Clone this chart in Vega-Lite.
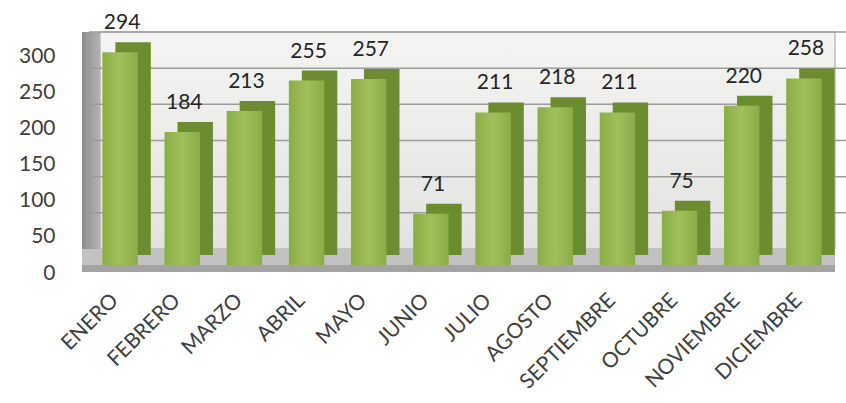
{
  "$schema": "https://vega.github.io/schema/vega-lite/v6.json",
  "autosize": {"type": "none"},
  "width": 746,
  "height": 217,
  "padding": {"left": 89, "top": 48, "right": 11, "bottom": 138},
  "background": "white",
  "config": {"view": {"stroke": null}, "font": "Lato",
    "axisY": {"labelOverlap": false, "tickCount": 7, "grid": false, "domain": false, "ticks": false, "labelFontSize": 21, "labelColor": "#404040", "labelPadding": 34, "labelOffset": 8, "title": null}},
  "datasets": {
    "meses": [
      {"mes": "ENERO", "valor": 294},
      {"mes": "FEBRERO", "valor": 184},
      {"mes": "MARZO", "valor": 213},
      {"mes": "ABRIL", "valor": 255},
      {"mes": "MAYO", "valor": 257},
      {"mes": "JUNIO", "valor": 71},
      {"mes": "JULIO", "valor": 211},
      {"mes": "AGOSTO", "valor": 218},
      {"mes": "SEPTIEMBRE", "valor": 211},
      {"mes": "OCTUBRE", "valor": 75},
      {"mes": "NOVIEMBRE", "valor": 220},
      {"mes": "DICIEMBRE", "valor": 258}
    ],
    "grid": [{"g": 50}, {"g": 100}, {"g": 150}, {"g": 200}, {"g": 250}, {"g": 300}],
    "one": [{"k": 1}]
  },
  "layer": [
    {
      "data": {"name": "one"},
      "mark": {"type": "rect", "yOffset": -16, "y2Offset": -16, "stroke": "#a0a0a0", "strokeWidth": 1,
        "color": {"gradient": "linear", "x1": 0, "y1": 0, "x2": 0, "y2": 1, "stops": [{"offset": 0, "color": "#f4f4f2"}, {"offset": 1, "color": "#e2e2e0"}]}},
      "encoding": {"x": {"value": 11}, "x2": {"value": "width"},
        "y": {"datum": 300, "type": "quantitative", "scale": {"domain": [0, 300], "nice": false},
          "axis": {"title": null, "values": [0, 50, 100, 150, 200, 250, 300]}},
        "y2": {"datum": 0}}
    },
    {
      "data": {"name": "one"},
      "mark": {"type": "rect", "yOffset": -16, "y2Offset": 7, "color": {"gradient": "linear", "x1": 0, "y1": 0, "x2": 1, "y2": 0, "stops": [{"offset": 0, "color": "#8c8c8c"}, {"offset": 1, "color": "#b3b3b3"}]}},
      "encoding": {"x": {"value": -7}, "x2": {"value": 11},
        "y": {"datum": 300, "type": "quantitative"}, "y2": {"datum": 0}}
    },
    {
      "data": {"name": "grid"},
      "mark": {"type": "rule", "xOffset": 11, "x2Offset": 0, "yOffset": -16, "y2Offset": -16, "color": "#9c9c9c", "strokeWidth": 1.5},
      "encoding": {"y": {"field": "g", "type": "quantitative"}}
    },
    {
      "data": {"name": "one"},
      "mark": {"type": "rect", "yOffset": -16, "y2Offset": 0, "color": "#c2c2c2"},
      "encoding": {"x": {"value": -7}, "x2": {"value": "width"},
        "y": {"datum": 0, "type": "quantitative"}, "y2": {"datum": 0}}
    },
    {
      "data": {"name": "one"},
      "mark": {"type": "rect", "yOffset": 0, "y2Offset": 7, "color": "#a3a3a3"},
      "encoding": {"x": {"value": -7}, "x2": {"value": "width"},
        "y": {"datum": 0, "type": "quantitative"}, "y2": {"datum": 0}}
    },
    {
      "data": {"name": "meses"},
      "layer": [
        {
          "mark": {"type": "bar", "xOffset": 13, "yOffset": -10, "y2Offset": -10, "color": "#6c8c30"},
          "encoding": {
            "x": {"field": "mes", "type": "nominal", "sort": null,
              "scale": {"paddingInner": 0.43, "paddingOuter": 0.215},
              "axis": {"title": null, "labelAngle": -45, "labelAlign": "right", "labelBaseline": "middle", "labelFontSize": 21, "labelColor": "#404040", "labelPadding": 32, "labelOffset": -5, "domain": false, "ticks": false}},
            "y": {"field": "valor", "type": "quantitative"}
          }
        },
        {
          "mark": {"type": "bar", "color": {"gradient": "linear", "x1": 0, "y1": 0, "x2": 1, "y2": 0, "stops": [{"offset": 0, "color": "#8aad45"}, {"offset": 0.5, "color": "#a0c05c"}, {"offset": 1, "color": "#8aac47"}]}},
          "encoding": {
            "x": {"field": "mes", "type": "nominal", "sort": null},
            "y": {"field": "valor", "type": "quantitative"}
          }
        },
        {
          "mark": {"type": "text", "baseline": "bottom", "dy": -19, "dx": 2, "fontSize": 21, "color": "#262626"},
          "encoding": {
            "x": {"field": "mes", "type": "nominal", "sort": null},
            "y": {"field": "valor", "type": "quantitative"},
            "text": {"field": "valor", "type": "quantitative"}
          }
        }
      ]
    }
  ]
}
